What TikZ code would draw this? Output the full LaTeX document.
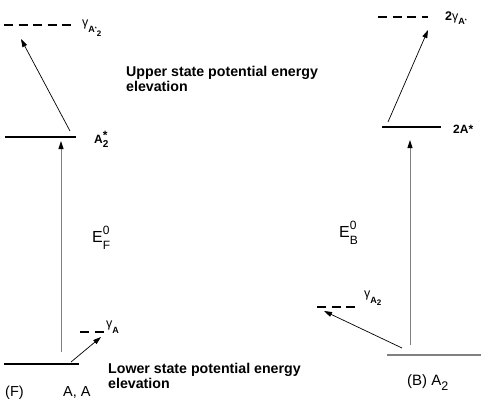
\documentclass[tikz,border=0pt]{standalone}
\usepackage{fontspec}
\setmainfont{Liberation Sans}
\usetikzlibrary{arrows.meta}
\newcommand{\subfont}{\fontsize{9}{9}\selectfont\bfseries}

\begin{document}
\begin{tikzpicture}[x=1pt, y=-1pt,
     level/.style={line width=2.6pt},
     halflevel/.style={line width=2.6pt, dash pattern=on 9pt off 5.5pt},
     base/.style={draw=black!50, line width=1.1pt},
     jump/.style={-{Triangle[length=8pt,width=5pt]}, line width=0.7pt},
     rise/.style={-{Triangle[length=8pt,width=5pt,color=black]}, draw=black!50, line width=1pt},
     lbl/.style={font=\fontsize{12.5}{12.5}\selectfont, anchor=base west, inner sep=0pt},
     big/.style={font=\fontsize{14.5}{14.5}\selectfont, anchor=base west, inner sep=0pt},
     note/.style={font=\fontsize{14.2}{15}\selectfont\bfseries, align=left, anchor=north west, inner sep=0pt}]
  \useasboundingbox (0,0) rectangle (491,402);
  % (F) side
  \coordinate (f1) at (4,364);   \coordinate (f2) at (79,364);
  \coordinate (fs1) at (5,137);  \coordinate (fs2) at (76,137);
  \coordinate (fu1) at (4,25);   \coordinate (fu2) at (72,25);
  \coordinate (fg1) at (80,332); \coordinate (fg2) at (104,332);
  \coordinate (fe0) at (61,352); \coordinate (fe1) at (61,141);
  \coordinate (fa0) at (71,362); \coordinate (fa1) at (101,337);
  \coordinate (fb0) at (70,131); \coordinate (fb1) at (21,39);
  \draw[level] (f1) -- (f2);
  \draw[level] (fs1) -- (fs2);
  \draw[halflevel] (fu1) -- (fu2);
  \draw[halflevel] (fg1) -- (fg2);
  \draw[rise] (fe0) -- (fe1);
  \draw[jump] (fa0) -- (fa1);
  \draw[jump] (fb0) -- (fb1);
  \node[lbl] (gfu) at (82,26) {γ\raisebox{-6pt}{\subfont A\raisebox{1.5pt}{\tiny *}\raisebox{-4pt}{\fontsize{8}{8}\selectfont 2}}};
  \node[lbl, font=\fontsize{12}{12}\selectfont\bfseries] (lfs) at (94,143) {A\makebox[0pt][l]{\raisebox{4pt}{*}}\raisebox{-4.5pt}{\fontsize{10}{10}\selectfont 2}};
  \node[lbl] (gfa) at (106,327) {γ\raisebox{-6pt}{\subfont A}};
  \node[big, font=\fontsize{16}{16}\selectfont] (ef) at (92,242) {E\makebox[0pt][l]{\raisebox{8pt}{\fontsize{12}{12}\selectfont 0}}\raisebox{-7pt}{\fontsize{12}{12}\selectfont F}};
  \node[big] (lf) at (5,396) {(F)};
  \node[big] (laa) at (63,396) {A, A};
  \node[note] (up) at (126,66.5) {Upper state potential energy\\elevation};
  \node[note] (low) at (108,363) {Lower state potential energy\\elevation};
  % (B) side
  \coordinate (b1) at (387,355);  \coordinate (b2) at (481,355);
  \coordinate (bs1) at (382,127); \coordinate (bs2) at (441,127);
  \coordinate (bu1) at (378,17);  \coordinate (bu2) at (428,17);
  \coordinate (bg1) at (317,307); \coordinate (bg2) at (356,307);
  \coordinate (be0) at (410,345); \coordinate (be1) at (410,140);
  \coordinate (ba0) at (402,348); \coordinate (ba1) at (324,311);
  \coordinate (bb0) at (388,122); \coordinate (bb1) at (428,30);
  \draw[base] (b1) -- (b2);
  \draw[level] (bs1) -- (bs2);
  \draw[halflevel] (bu1) -- (bu2);
  \draw[halflevel] (bg1) -- (bg2);
  \draw[rise] (be0) -- (be1);
  \draw[jump] (ba0) -- (ba1);
  \draw[jump] (bb0) -- (bb1);
  \node[lbl] (gbu) at (445,20) {{\bfseries 2}γ\raisebox{-4pt}{\subfont A\raisebox{1.5pt}{\tiny *}}};
  \node[lbl, font=\fontsize{12}{12}\selectfont\bfseries] (lbs) at (453,133) {2A*};
  \node[lbl] (gbg) at (364,297) {γ\raisebox{-6pt}{\subfont A\raisebox{-2.5pt}{\fontsize{8}{8}\selectfont 2}}};
  \node[big, font=\fontsize{16}{16}\selectfont] (eb) at (339,237) {E\makebox[0pt][l]{\raisebox{8pt}{\fontsize{12}{12}\selectfont 0}}\raisebox{-7pt}{\fontsize{12}{12}\selectfont B}};
  \node[big, font=\fontsize{15}{15}\selectfont] (lb) at (407,385) {(B) A\raisebox{-5pt}{\fontsize{12.5}{12.5}\selectfont 2}};
\end{tikzpicture}
\end{document}
